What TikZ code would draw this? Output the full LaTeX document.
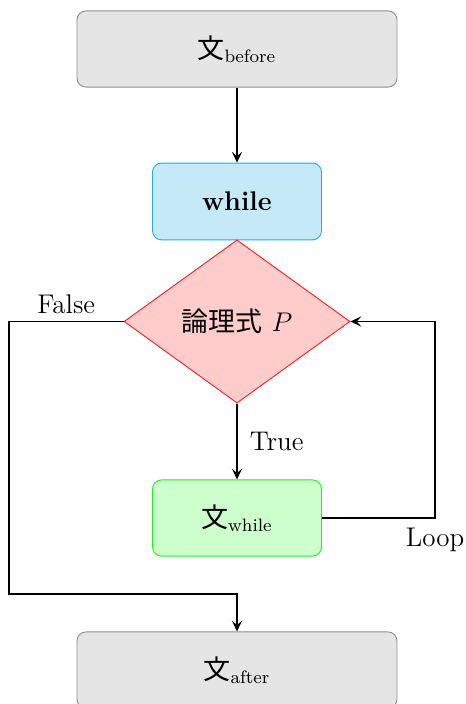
\documentclass[tikz,border=0pt]{standalone}
\usepackage{fontspec}
\newfontfamily\jp{Noto Sans CJK JP}
\usetikzlibrary{arrows.meta,shapes.geometric}
\definecolor{boxgray}{HTML}{E5E5E5}
\definecolor{edgegray}{HTML}{8E8E8E}
\definecolor{loopfill}{HTML}{C6E9F8}
\definecolor{loopedge}{HTML}{1EAEE8}
\definecolor{condfill}{HTML}{FFCCCC}
\definecolor{condedge}{HTML}{FF1A1A}
\definecolor{bodyfill}{HTML}{CCFFCC}
\definecolor{bodyedge}{HTML}{22EE22}
\begin{document}
\begin{tikzpicture}[x=0.015625cm, y=-0.015625cm,
  font=\large,
  stmt/.style={rectangle, rounded corners=4pt, draw=edgegray, fill=boxgray,
    minimum width=5cm, minimum height=1.19cm, inner sep=0pt},
  headbox/.style={rectangle, rounded corners=4pt, draw=loopedge, fill=loopfill,
    minimum width=2.64cm, minimum height=1.2cm, inner sep=0pt},
  bodybox/.style={rectangle, rounded corners=4pt, draw=bodyedge, fill=bodyfill,
    minimum width=2.64cm, minimum height=1.19cm, inner sep=0pt},
  cond/.style={diamond, aspect=1.39, draw=condedge, fill=condfill,
    minimum width=3.53cm, minimum height=2.55cm, inner sep=0pt},
  arr/.style={thick, -{Stealth[length=1.7mm, width=1.6mm, inset=0.7mm]}}]
\useasboundingbox (0,0) rectangle (465,704);

% statements and the loop head
\node[stmt]    (before) at (237,49)    {{\jp 文}$_{\mathrm{before}}$};
\node[headbox] (head)   at (237,201.5) {\textbf{while}};
\node[cond]    (cond)   at (237,321.5) {{\jp 論理式} $P$};
\node[bodybox] (body)   at (237,518)   {{\jp 文}$_{\mathrm{while}}$};
\node[stmt]    (after)  at (237,670)   {{\jp 文}$_{\mathrm{after}}$};

% bends of the back edge and of the exit edge
\coordinate (loopc)  at (435,518);
\coordinate (falsec) at (9,321.5);
\coordinate (falseb) at (9,594);

% connectors
\draw[arr] (before.south) -- (head.north);
\draw[arr] (cond.south) -- node[right, xshift=2pt] {True} (body.north);
\draw[arr] (body.east) -- (loopc) node[below, inner sep=4pt] {Loop} |- (cond.east);
\draw[arr] (cond.west) -- node[above, inner sep=3pt] {False} (falsec)
  -- (falseb) -| (after.north);
\end{tikzpicture}
\end{document}
